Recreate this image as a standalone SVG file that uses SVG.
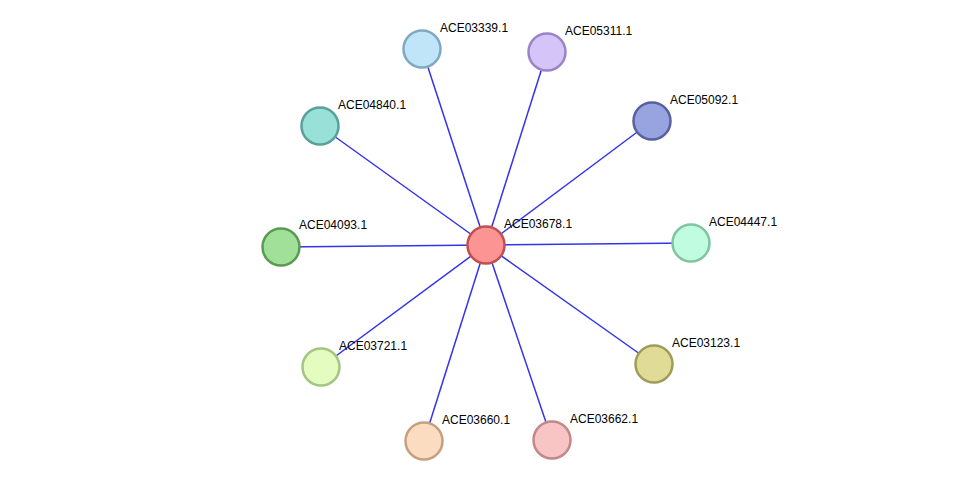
<svg xmlns="http://www.w3.org/2000/svg" width="976" height="487" viewBox="0 0 976 487">
<style>
text{font-family:"Liberation Sans",Arial,sans-serif;font-size:12px;fill:#000}
circle{stroke-width:2.5}
line{stroke:#3333ee;stroke-width:1.5}
</style>
<rect width="976" height="487" fill="#fff"/>
<g id="edges">
<line x1="486" y1="245" x2="422" y2="49"/>
<line x1="486" y1="245" x2="547" y2="52"/>
<line x1="486" y1="245" x2="320" y2="126"/>
<line x1="486" y1="245" x2="652" y2="121"/>
<line x1="486" y1="245" x2="281" y2="247"/>
<line x1="486" y1="245" x2="691" y2="243"/>
<line x1="486" y1="245" x2="321" y2="367"/>
<line x1="486" y1="245" x2="654" y2="364"/>
<line x1="486" y1="245" x2="424" y2="441"/>
<line x1="486" y1="245" x2="552" y2="440"/>
</g>
<g id="ACE03339"><circle cx="422" cy="49" r="18.5" fill="#c0e4f8" stroke="#80a8c4"/><text x="440" y="32">ACE03339.1</text></g>
<g id="ACE05311"><circle cx="547" cy="52" r="18.5" fill="#d4c4f8" stroke="#9a84c8"/><text x="565" y="35">ACE05311.1</text></g>
<g id="ACE04840"><circle cx="320" cy="126" r="18.5" fill="#98e0d8" stroke="#58a09a"/><text x="338" y="109">ACE04840.1</text></g>
<g id="ACE05092"><circle cx="652" cy="121" r="18.5" fill="#98a4e0" stroke="#5860a0"/><text x="670" y="104">ACE05092.1</text></g>
<g id="ACE04093"><circle cx="281" cy="247" r="18.5" fill="#a0e098" stroke="#5a9a52"/><text x="299" y="229">ACE04093.1</text></g>
<g id="ACE04447"><circle cx="691" cy="243" r="18.5" fill="#c0fce0" stroke="#80c4a0"/><text x="709" y="226">ACE04447.1</text></g>
<g id="ACE03721"><circle cx="321" cy="367" r="18.5" fill="#e4fcc0" stroke="#a4c480"/><text x="339" y="350">ACE03721.1</text></g>
<g id="ACE03123"><circle cx="654" cy="364" r="18.5" fill="#e0dc98" stroke="#a09c58"/><text x="672" y="347">ACE03123.1</text></g>
<g id="ACE03660"><circle cx="424" cy="441" r="18.5" fill="#fcdcc0" stroke="#c4a080"/><text x="442" y="424">ACE03660.1</text></g>
<g id="ACE03662"><circle cx="552" cy="440" r="18.5" fill="#f8c4c4" stroke="#c08888"/><text x="570" y="423">ACE03662.1</text></g>
<g id="ACE03678"><circle cx="486" cy="245" r="18.5" fill="#fc9494" stroke="#c05050"/><text x="504" y="228">ACE03678.1</text></g>
</svg>
